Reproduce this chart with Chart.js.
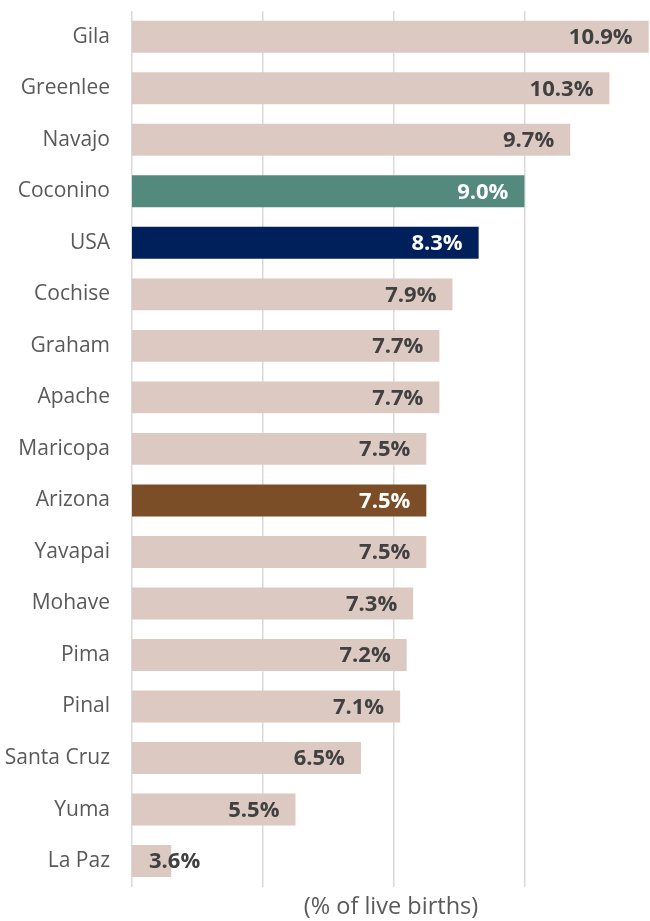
<!DOCTYPE html>
<html>
<head>
<meta charset="utf-8">
<script src="https://cdn.jsdelivr.net/npm/chart.js@4/dist/chart.umd.min.js"></script>
<style>
  html, body { margin: 0; padding: 0; background: #fff; }
  #wrap { width: 650px; height: 921px; }
</style>
</head>
<body>
<div id="wrap"><canvas id="lowBirthChart"></canvas></div>
<script>
const counties = ['Gila', 'Greenlee', 'Navajo', 'Coconino', 'USA', 'Cochise', 'Graham', 'Apache',
  'Maricopa', 'Arizona', 'Yavapai', 'Mohave', 'Pima', 'Pinal', 'Santa Cruz', 'Yuma', 'La Paz'];
const rates = [10.9, 10.3, 9.7, 9.0, 8.3, 7.9, 7.7, 7.7, 7.5, 7.5, 7.5, 7.3, 7.2, 7.1, 6.5, 5.5, 3.6];
const gridTicks = [3, 5, 7, 9];

const beige = '#DCCAC2';
const barColors = counties.map(function(c) {
  if (c === 'Coconino') return '#548A7D';
  if (c === 'USA') return '#00205B';
  if (c === 'Arizona') return '#7B4E28';
  return beige;
});

// percent labels, inside end of each bar (pushed right when the bar is too short)
const valueLabels = {
  id: 'valueLabels',
  afterDatasetsDraw(chart) {
    const ctx = chart.ctx;
    const meta = chart.getDatasetMeta(0);
    const left = chart.chartArea.left;
    ctx.save();
    ctx.font = 'bold 22px "Open Sans", sans-serif';
    ctx.textBaseline = 'middle';
    ctx.textAlign = 'right';
    meta.data.forEach(function(bar, i) {
      const txt = rates[i].toFixed(1) + '%';
      const w = ctx.measureText(txt).width;
      let x = bar.x - 16;
      if (x - w < left + 17) x = left + 17 + w;
      ctx.fillStyle = barColors[i] === beige ? '#404040' : '#ffffff';
      ctx.fillText(txt, x, bar.y + 1);
    });
    ctx.restore();
  }
};

const ctx = document.getElementById('lowBirthChart').getContext('2d');
new Chart(ctx, {
  type: 'bar',
  data: {
    labels: counties,
    datasets: [{
      data: rates,
      backgroundColor: barColors,
      borderWidth: 0,
      barPercentage: 0.62,
      categoryPercentage: 1
    }]
  },
  options: {
    indexAxis: 'y',
    responsive: true,
    maintainAspectRatio: false,
    animation: false,
    layout: { padding: { top: 11, right: 0, bottom: 0, left: 0 } },
    plugins: {
      legend: { display: false },
      tooltip: { enabled: false }
    },
    scales: {
      x: {
        min: 3,
        max: 10.92,
        afterBuildTicks: function(axis) {
          axis.ticks = gridTicks.map(function(v) { return { value: v }; });
        },
        grid: { color: '#D9D9D9', lineWidth: 1.5, drawTicks: false },
        border: { display: false },
        ticks: { display: false },
        title: {
          display: true,
          text: '(% of live births)',
          color: '#595959',
          font: { family: '"Open Sans", sans-serif', size: 23.5 },
          padding: { top: 6, bottom: 0 }
        }
      },
      y: {
        grid: { display: false },
        border: { display: false },
        afterFit: function(axis) {
          axis.width = 132;
          axis.paddingTop = 0;
          axis.paddingBottom = 0;
        },
        ticks: {
          color: '#595959',
          padding: 14,
          font: { family: '"Open Sans", sans-serif', size: 21 }
        }
      }
    }
  },
  plugins: [valueLabels]
});
</script>
</body>
</html>
